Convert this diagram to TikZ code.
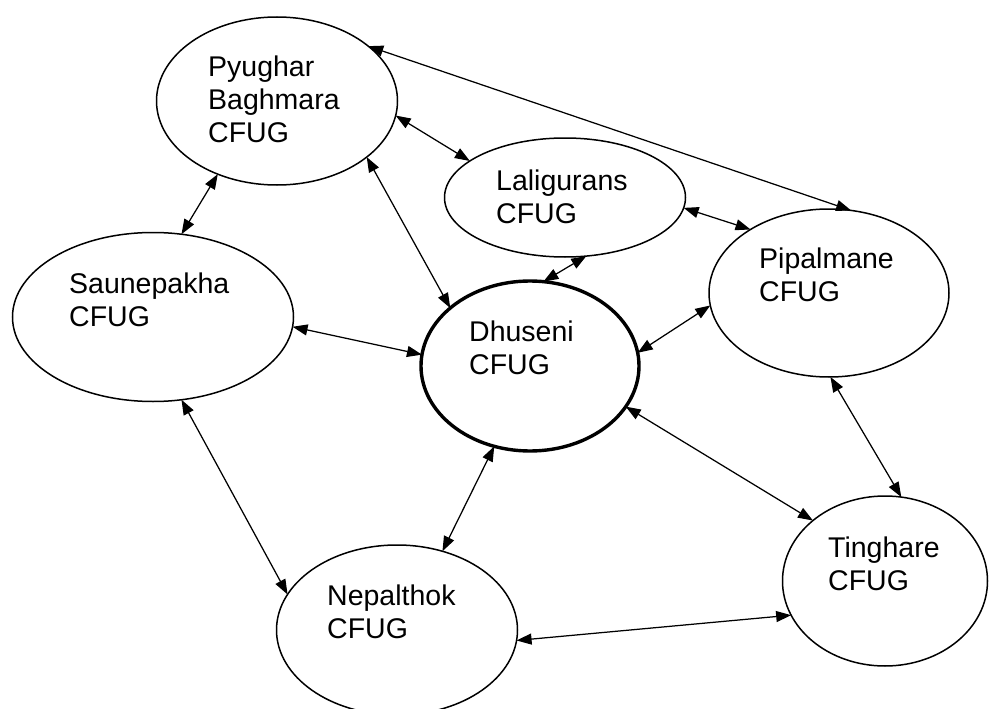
\documentclass[tikz,border=0pt]{standalone}
\usepackage{fontspec}
\setmainfont{Liberation Sans}
\usetikzlibrary{arrows.meta,shapes.geometric}

\begin{document}
\begin{tikzpicture}[x=1pt,y=-1pt,
  group/.style={draw, ellipse, line width=1.5pt, inner sep=0pt, outer sep=0pt},
  hub/.style={group, line width=3.4pt},
  grouplabel/.style={anchor=base west, inner sep=0pt, font=\fontsize{28.5}{33}\selectfont},
  link/.style={{Triangle[length=15pt,width=11pt]}-{Triangle[length=15pt,width=11pt]}, line width=1.25pt}]

  % canvas
  \useasboundingbox (0,0) rectangle (989,709);
  \fill[white] (0,0) rectangle (989,709);
  \clip (0,0) rectangle (989,709);

  % forest user groups
  \node[group, minimum width=241pt, minimum height=168pt] (pyu) at (277,101) {};
  \node[group, minimum width=241pt, minimum height=119pt] (lal) at (565,197.5) {};
  \node[group, minimum width=281pt, minimum height=169pt] (sau) at (153,317) {};
  \node[hub,   minimum width=218pt, minimum height=170pt] (dhu) at (530,366) {};
  \node[group, minimum width=240pt, minimum height=168pt] (pip) at (829,293) {};
  \node[group, minimum width=205pt, minimum height=170pt] (tin) at (885,581) {};
  \node[group, minimum width=241pt, minimum height=170pt] (nep) at (397,630) {};

  % group names
  \node[grouplabel] (pyu-t) at (208,77)  {\begin{tabular}[t]{@{}l@{}}Pyughar\\Baghmara\\CFUG\end{tabular}};
  \node[grouplabel] (lal-t) at (496,190) {\begin{tabular}[t]{@{}l@{}}Laligurans\\CFUG\end{tabular}};
  \node[grouplabel] (sau-t) at (69,293)  {\begin{tabular}[t]{@{}l@{}}Saunepakha\\CFUG\end{tabular}};
  \node[grouplabel] (dhu-t) at (469,341) {\begin{tabular}[t]{@{}l@{}}Dhuseni\\CFUG\end{tabular}};
  \node[grouplabel] (pip-t) at (759,268) {\begin{tabular}[t]{@{}l@{}}Pipalmane\\CFUG\end{tabular}};
  \node[grouplabel] (tin-t) at (828,557) {\begin{tabular}[t]{@{}l@{}}Tinghare\\CFUG\end{tabular}};
  \node[grouplabel] (nep-t) at (327,605) {\begin{tabular}[t]{@{}l@{}}Nepalthok\\CFUG\end{tabular}};

  % two-way links between groups
  \draw[link] (pyu.31)   -- (pip.75);
  \draw[link] (pyu.-7)   -- (lal.159);
  \draw[link] (pyu.231)  -- (sau.71);
  \draw[link] (pyu.-32)  -- (dhu.144);
  \draw[link] (lal.-5)   -- (pip.141);
  \draw[link] (lal.-70)  -- (dhu.81);
  \draw[link] (sau.-4)   -- (dhu.174);
  \draw[link] (sau.-71)  -- (nep.162);
  \draw[link] (dhu.246)  -- (nep.60);
  \draw[link] (dhu.7)    -- (pip.186);
  \draw[link] (dhu.-23)  -- (tin.140);
  \draw[link] (pip.-89)  -- (tin.79);
  \draw[link] (nep.-5)   -- (tin.200);
\end{tikzpicture}
\end{document}
